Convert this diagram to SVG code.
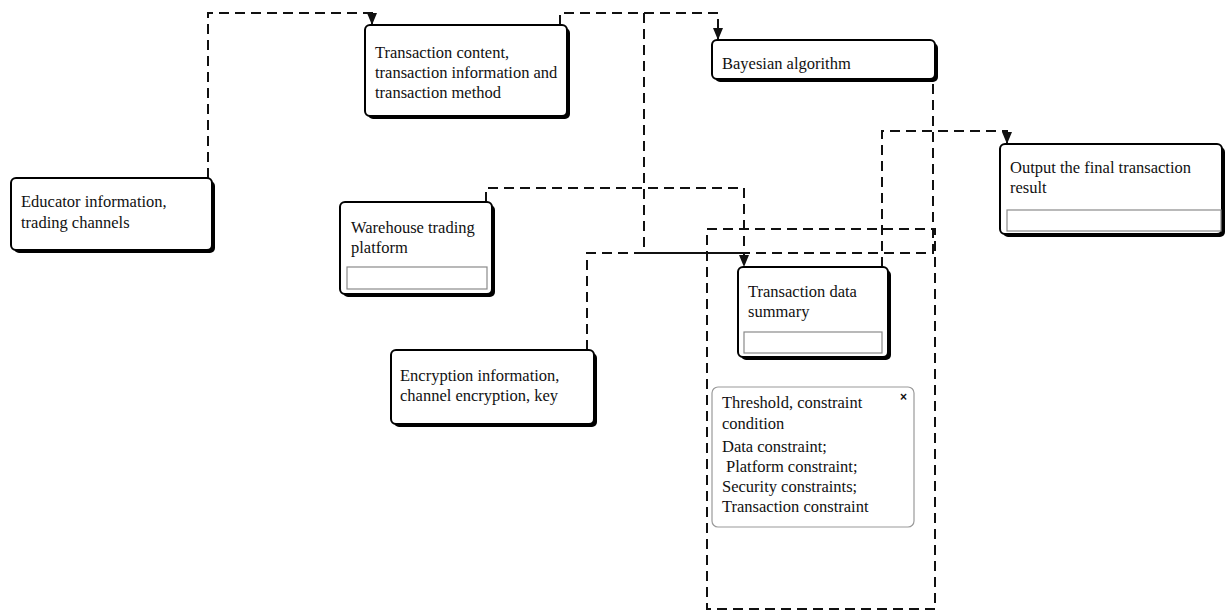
<svg xmlns="http://www.w3.org/2000/svg" width="1227" height="613" viewBox="0 0 1227 613">
<defs>
<style>
.shadow{fill:#000;}
.box{fill:#fff;stroke:#000;stroke-width:2;}
.inner{fill:#fff;stroke:#8a8a8a;stroke-width:1.2;}
.note{fill:#fff;stroke:#9a9a9a;stroke-width:1.2;}
.lbl{font-family:"Liberation Serif","Times New Roman",serif;font-size:16.5px;fill:#111;}
.conn{fill:none;stroke:#111;stroke-width:2;stroke-dasharray:10 6;}
</style>
<marker id="arr" markerUnits="userSpaceOnUse" markerWidth="10" markerHeight="12" viewBox="0 0 10 12" refX="5" refY="12" orient="auto-start-reverse">
<path d="M0,0 L10,0 L5,12 Z" fill="#111" transform="rotate(-90 5 6)"/>
</marker>
<marker id="ah" markerUnits="userSpaceOnUse" markerWidth="12" markerHeight="10" viewBox="0 0 12 10" refX="12" refY="5" orient="auto">
<path d="M0,0 L12,5 L0,10 Z" fill="#111"/>
</marker>
</defs>
<rect width="1227" height="613" fill="#fff"/>

<g id="connectors">
<path class="conn" d="M208,178 V13 H372 V25" marker-end="url(#ah)"/>
<path class="conn" d="M560,25 V13 H718 V40" marker-end="url(#ah)"/>
<path class="conn" d="M644,13 V253 H933 V43"/>
<path class="conn" d="M587,350 V253 H740"/>
<path class="conn" d="M486,202 V188 H744 V267" marker-end="url(#ah)"/>
<path class="conn" d="M882,267 V131 H1007 V144" marker-end="url(#ah)"/>
<rect class="conn" x="707" y="229" width="228" height="380"/>
</g>

<g id="educator">
<rect class="shadow" x="14" y="181" width="201" height="72" rx="5"/>
<rect class="box" x="11" y="178" width="201" height="72" rx="5"/>
<text class="lbl" x="21" y="207">Educator information,</text>
<text class="lbl" x="21" y="228">trading channels</text>
</g>

<g id="transaction-content">
<rect class="shadow" x="368" y="28" width="202" height="91" rx="5"/>
<rect class="box" x="365" y="25" width="202" height="91" rx="5"/>
<text class="lbl" x="375" y="58">Transaction content,</text>
<text class="lbl" x="375" y="78">transaction information and</text>
<text class="lbl" x="375" y="98">transaction method</text>
</g>

<g id="bayesian">
<rect class="shadow" x="715" y="43" width="223" height="39" rx="5"/>
<rect class="box" x="712" y="40" width="223" height="39" rx="5"/>
<text class="lbl" x="722" y="69">Bayesian algorithm</text>
</g>

<g id="output">
<rect class="shadow" x="1003" y="147" width="222" height="90" rx="5"/>
<rect class="box" x="1000" y="144" width="222" height="90" rx="5"/>
<text class="lbl" x="1010" y="173">Output the final transaction</text>
<text class="lbl" x="1010" y="193">result</text>
<rect class="inner" x="1007" y="210" width="214" height="21"/>
</g>

<g id="warehouse">
<rect class="shadow" x="343" y="205" width="152" height="92" rx="5"/>
<rect class="box" x="340" y="202" width="152" height="92" rx="5"/>
<text class="lbl" x="351" y="233">Warehouse trading</text>
<text class="lbl" x="351" y="253">platform</text>
<rect class="inner" x="347" y="267" width="140" height="22"/>
</g>

<g id="data-summary">
<rect class="shadow" x="741" y="270" width="150" height="90" rx="5"/>
<rect class="box" x="738" y="267" width="150" height="90" rx="5"/>
<text class="lbl" x="748" y="297">Transaction data</text>
<text class="lbl" x="748" y="317">summary</text>
<rect class="inner" x="744" y="332" width="138" height="21"/>
</g>

<g id="encryption">
<rect class="shadow" x="394" y="353" width="203" height="74" rx="5"/>
<rect class="box" x="391" y="350" width="203" height="74" rx="5"/>
<text class="lbl" x="400" y="381">Encryption information,</text>
<text class="lbl" x="400" y="401">channel encryption, key</text>
</g>

<g id="threshold">
<rect class="note" x="712" y="387" width="202" height="140" rx="6"/>
<text x="900" y="401" style="font-family:'Liberation Sans',Arial,sans-serif;font-size:12px;font-weight:bold;fill:#111;">×</text>
<text class="lbl" x="722" y="408">Threshold, constraint</text>
<text class="lbl" x="722" y="429">condition</text>
<text class="lbl" x="722" y="452">Data constraint;</text>
<text class="lbl" x="726" y="472">Platform constraint;</text>
<text class="lbl" x="722" y="492">Security constraints;</text>
<text class="lbl" x="722" y="512">Transaction constraint</text>
</g>
</svg>
